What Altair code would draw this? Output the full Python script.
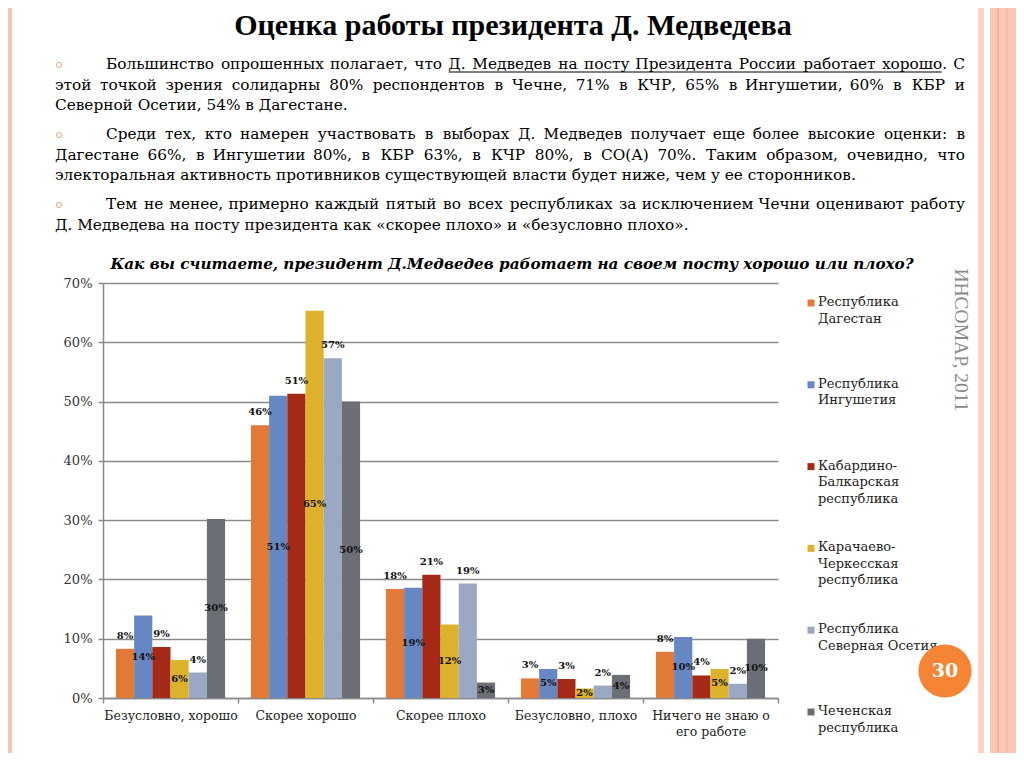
import altair as alt
import pandas as pd

# ---------------- data ----------------
categories = ["Безусловно, хорошо", "Скорее хорошо", "Скорее плохо",
              "Безусловно, плохо", "Ничего не знаю о его работе"]
series = ["Республика Дагестан", "Республика Ингушетия", "Кабардино-Балкарская республика",
          "Карачаево-Черкесская республика", "Республика Северная Осетия", "Чеченская республика"]
legend_labels = ["Республика\nДагестан", "Республика\nИнгушетия", "Кабардино-\nБалкарская\nреспублика",
                 "Карачаево-\nЧеркесская\nреспублика", "Республика\nСеверная Осетия", "Чеченская\nреспублика"]
colors = ["#e07a36", "#6787c2", "#a42a17", "#dcb12c", "#9aa8c3", "#6c6e75"]

dagestan = [8.3, 46.0, 18.4, 3.3, 7.8]
ingushetia = [13.9, 51.0, 18.6, 4.9, 10.3]
kbr = [8.6, 51.3, 20.8, 3.2, 3.8]
kchr = [6.4, 65.3, 12.4, 1.6, 4.9]
ossetia = [4.3, 57.3, 19.3, 2.1, 2.4]
chechnya = [30.2, 50.0, 2.6, 3.9, 10.0]
all_values = [dagestan, ingushetia, kbr, kchr, ossetia, chechnya]
label_above = [True, False, True, False, True, False]

y_ticks = [0, 10, 20, 30, 40, 50, 60, 70]

title_text = "Оценка работы президента Д. Медведева"
chart_title = "Как вы считаете, президент Д.Медведев работает на своем посту хорошо или плохо?"
source_text = "ИНСОМАР, 2011"
page_number = "30"
underlined = "Д. Медведев на посту Президента России работает хорошо"
# (text, indented, justified)
body_lines = [
    ("Большинство опрошенных полагает, что Д. Медведев на посту Президента России работает хорошо. С", True, True),
    ("этой точкой зрения солидарны 80% респондентов в Чечне, 71% в КЧР, 65% в Ингушетии, 60% в КБР и", False, True),
    ("Северной Осетии, 54% в Дагестане.", False, False),
    ("Среди тех, кто намерен участвовать в выборах Д. Медведев получает еще более высокие оценки: в", True, True),
    ("Дагестане 66%, в Ингушетии 80%, в КБР 63%, в  КЧР 80%, в СО(А) 70%.  Таким образом, очевидно, что", False, True),
    ("электоральная активность противников существующей власти будет ниже, чем у ее сторонников.", False, False),
    ("Тем не менее, примерно каждый пятый во всех республиках за исключением Чечни оценивают работу", True, True),
    ("Д. Медведева на посту президента как «скорее плохо» и «безусловно плохо».", False, False),
]

rows = []
for s, vals, above in zip(series, all_values, label_above):
    for c, v in zip(categories, vals):
        rows.append({"category": c, "series": s, "value": v, "above": above})
df = pd.DataFrame(rows)

# ---------------- layout constants (page px -> chart px) ----------------
OX, OY = 103, 283
W, H = 675, 415
SERIF = "DejaVu Serif"
TITLE_FONT = "Liberation Serif"
BODY_SIZE = 15.3

def px(x):
    return x - OX

def py(y):
    return y - OY

one = pd.DataFrame({"k": [0]})

color_scale = alt.Scale(domain=series, range=colors)
x_enc = alt.X("category:N", sort=categories, scale=alt.Scale(paddingInner=0, paddingOuter=0),
              axis=alt.Axis(title=None, labelAngle=0, tickBand="extent", grid=False,
                            domainColor="#8a8a8a", domainWidth=1.5, tickColor="#8a8a8a",
                            tickWidth=1.5, tickSize=5, labelFont=SERIF, labelFontSize=12.5,
                            labelColor="#222222", labelPadding=6, labelLineHeight=16,
                            labelExpr="datum.value == 'Ничего не знаю о его работе' ? ['Ничего не знаю о', 'его работе'] : datum.value"))
xo_enc = alt.XOffset("series:N", sort=series, scale=alt.Scale(paddingInner=0, paddingOuter=0.71))
y_enc = alt.Y("value:Q", scale=alt.Scale(domain=[0, 70], nice=False),
              axis=alt.Axis(title=None, values=y_ticks, labelExpr="datum.value + '%'",
                            gridColor="#8a8a8a", gridWidth=1.5, domainColor="#8a8a8a",
                            domainWidth=1.5, tickColor="#8a8a8a", tickWidth=1.5, tickSize=5,
                            labelFont=SERIF, labelFontSize=13, labelColor="#333333",
                            labelPadding=6))

bars = alt.Chart(df).mark_bar(stroke=None).encode(
    x=x_enc, xOffset=xo_enc, y=y_enc,
    color=alt.Color("series:N", scale=color_scale, legend=None),
)

base_text = alt.Chart(df).transform_calculate(
    label="format(datum.value, '.0f') + '%'",
    mid="datum.value / 2",
)
text_above = base_text.transform_filter("datum.above").mark_text(
    font=SERIF, fontSize=10, fontWeight="bold", color="#111111", dy=-13, baseline="middle"
).encode(x=alt.X("category:N", sort=categories), xOffset=xo_enc, y="value:Q", text="label:N")
text_mid = base_text.transform_filter("!datum.above").mark_text(
    font=SERIF, fontSize=10, fontWeight="bold", color="#111111", baseline="middle"
).encode(x=alt.X("category:N", sort=categories), xOffset=xo_enc, y="mid:Q", text="label:N")

layers = [bars, text_above, text_mid]

# ---------------- slide decoration ----------------
def rect(x1, x2, y1, y2, c):
    return alt.Chart(one).mark_rect(color=c).encode(
        x=alt.value(px(x1)), x2=alt.value(px(x2)), y=alt.value(py(y1)), y2=alt.value(py(y2)))

layers += [
    rect(8, 12, 8, 760, "#f7c4b1"),
    rect(978, 984, 8, 760, "#fbd2c3"),
    rect(990, 1020, 8, 760, "#f9c8b4"),
    rect(997.5, 998.5, 8, 760, "#ee9f82"),
    rect(1006.5, 1007.5, 8, 760, "#f1ad92"),
]

def text(t, x, y, size, font=SERIF, weight="normal", style="normal", align="left",
         color="#000000", angle=0, baseline="middle"):
    return alt.Chart(one).mark_text(
        text=t, font=font, fontSize=size, fontWeight=weight, fontStyle=style,
        align=align, color=color, angle=angle, baseline=baseline
    ).encode(x=alt.value(px(x)), y=alt.value(py(y)))

layers.append(text(title_text, 513, 35, 30, font=TITLE_FONT, weight="bold", align="center",
                   baseline="alphabetic"))

# rough glyph-width model (em) of DejaVu Serif, used only for justifying text lines
WIDE = {"ш": 0.87, "щ": 0.87, "ж": 0.9, "м": 0.74, "ю": 0.84, "ы": 0.8, "ф": 0.8,
        "г": 0.52, "т": 0.56, "з": 0.53, "с": 0.56, "е": 0.59, "э": 0.55, "у": 0.57,
        "х": 0.6, "р": 0.64, "л": 0.64, "к": 0.64, "и": 0.67, "й": 0.67, "н": 0.67,
        "п": 0.67, "ц": 0.68, "д": 0.66, "ч": 0.64, "ь": 0.6, "я": 0.64, "а": 0.6,
        "о": 0.6, "в": 0.61, "б": 0.61,
        " ": 0.318, ",": 0.318, ".": 0.318, ":": 0.337, "%": 0.95, "(": 0.39, ")": 0.39,
        "«": 0.56, "»": 0.56, "-": 0.34, "Ш": 1.05, "Ж": 1.05, "М": 0.9, "Д": 0.78}

def em_width(s):
    w = 0.0
    for ch in s:
        if ch in WIDE:
            w += WIDE[ch]
        elif ch.isdigit():
            w += 0.636
        elif ch.isupper():
            w += 0.76
        else:
            w += 0.62
    return w

# calibrate model against the measured rendering of the two unjustified lines (14.6px)
CAL = (763 / em_width(body_lines[5][0]) + 278 / em_width(body_lines[2][0])) / 2 / 14.6 * BODY_SIZE

RIGHT = 965

def justified(t, x0, x1, yy):
    words = [w for w in t.split(" ") if w]
    widths = [em_width(w) * CAL for w in words]
    gap = (x1 - x0 - sum(widths)) / (len(words) - 1)
    res, lefts = [], []
    x = x0
    for i, (w, ww) in enumerate(zip(words, widths)):
        lefts.append(x)
        if i == 0:
            res.append(text(w, x, yy, BODY_SIZE, align="left"))
        elif i == len(words) - 1:
            res.append(text(w, x1, yy, BODY_SIZE, align="right"))
        else:
            res.append(text(w, x + ww / 2, yy, BODY_SIZE, align="center"))
        x += ww + gap
    return res, words, lefts, widths

line_y = [64, 85, 105, 134, 155, 175, 204, 225]
for li, ((t, indent, just), yy) in enumerate(zip(body_lines, line_y)):
    x0 = 106 if indent else 55
    if just:
        res, words, lefts, widths = justified(t, x0, RIGHT, yy)
        layers += res
        if li == 0:
            u_words = underlined.split(" ")
            i0 = words.index(u_words[0])
            i1 = i0 + len(u_words) - 1
            ux0 = lefts[i0]
            ux1 = lefts[i1] + em_width(u_words[-1]) * CAL
            layers.append(alt.Chart(one).mark_rule(color="#000000", strokeWidth=1).encode(
                x=alt.value(px(ux0)), x2=alt.value(px(ux1)), y=alt.value(py(yy + 8))))
    else:
        layers.append(text(t, x0, yy, BODY_SIZE))
    if indent:
        layers.append(alt.Chart(one).mark_point(shape="circle", filled=False, color="#e8874f",
                                                size=28, strokeWidth=1).encode(
            x=alt.value(px(59)), y=alt.value(py(yy + 1))))

layers.append(text(chart_title, 512, 264, 15.2, weight="bold", style="italic", align="center"))
layers.append(text(source_text, 961, 340, 19.5, font=TITLE_FONT, color="#8a8a8a", angle=90,
                   align="center"))

# legend
for i, (lab, c) in enumerate(zip(legend_labels, colors)):
    yy = 303 + 81.8 * i
    layers.append(alt.Chart(one).mark_square(color=c, opacity=1, size=49).encode(
        x=alt.value(px(811)), y=alt.value(py(yy))))
    layers.append(alt.Chart(one).mark_text(
        text=lab, font=SERIF, fontSize=13, lineBreak="\n", lineHeight=16.5, align="left",
        baseline="top", color="#222222").encode(x=alt.value(px(818)), y=alt.value(py(yy - 7))))

# page number circle
layers.append(alt.Chart(one).mark_circle(color="#f58535", opacity=1, size=2830).encode(
    x=alt.value(px(945)), y=alt.value(py(671))))
layers.append(text(page_number, 945, 671, 19, weight="bold", align="center", color="#ffffff"))

chart = alt.layer(*layers).properties(
    width=W, height=H,
    padding={"left": OX - 8, "top": OY - 8, "right": 1008 - (OX - 8) - W, "bottom": 745 - (OY - 8) - H},
    autosize=alt.AutoSizeParams(type="none"),
).configure_view(stroke=None)

chart.save("out.html", embed_options={"renderer": "svg", "actions": False})
